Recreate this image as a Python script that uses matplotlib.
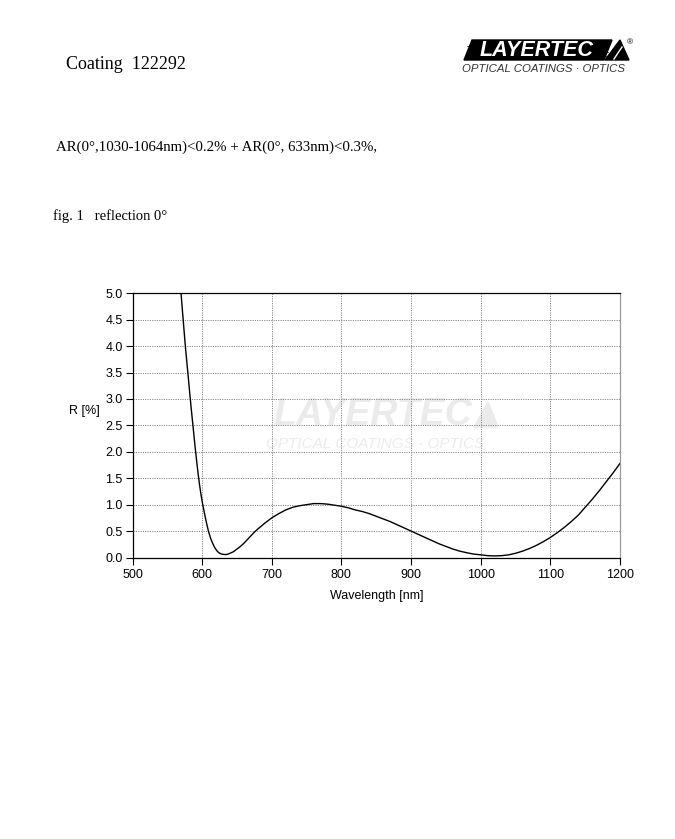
"""Reflection curve of LAYERTEC coating 122292 (AR 0 deg), datasheet-style page."""

import matplotlib
matplotlib.use("Agg")
import matplotlib.pyplot as plt
from matplotlib.patches import Polygon

# --- Data ---
wavelength_nm = [569, 570, 572, 574, 576, 578, 580, 582, 584, 586, 588, 590,
                 592, 594, 596, 598, 600, 603, 606, 609, 612, 615, 618, 621,
                 624, 627, 630, 633, 636, 640, 645, 650, 655, 660, 665, 670,
                 675, 680, 690, 700, 710, 720, 730, 740, 750, 760, 770, 780,
                 790, 800, 810, 820, 830, 840, 850, 860, 870, 880, 890, 900,
                 910, 920, 930, 940, 950, 960, 970, 980, 990, 1000, 1010,
                 1020, 1030, 1040, 1050, 1060, 1070, 1080, 1090, 1100, 1110,
                 1120, 1130, 1140, 1150, 1160, 1170, 1180, 1190, 1200]
reflection_pct = [5.1, 4.95, 4.62, 4.3, 3.98, 3.7, 3.42, 3.14, 2.86, 2.6,
                  2.34, 2.08, 1.84, 1.61, 1.4, 1.22, 1.06, 0.86, 0.67, 0.5,
                  0.37, 0.27, 0.19, 0.13, 0.09, 0.07, 0.06, 0.055, 0.06, 0.08,
                  0.11, 0.16, 0.21, 0.27, 0.34, 0.41, 0.48, 0.54, 0.65, 0.75,
                  0.83, 0.9, 0.95, 0.98, 1.0, 1.02, 1.02, 1.01, 0.99, 0.97,
                  0.94, 0.9, 0.87, 0.83, 0.78, 0.73, 0.68, 0.62, 0.56, 0.5,
                  0.44, 0.38, 0.32, 0.26, 0.21, 0.16, 0.12, 0.09, 0.065, 0.05,
                  0.035, 0.03, 0.035, 0.05, 0.08, 0.12, 0.17, 0.23, 0.3, 0.38,
                  0.47, 0.57, 0.68, 0.8, 0.95, 1.1, 1.26, 1.43, 1.6, 1.78]

x_ticks = [500, 600, 700, 800, 900, 1000, 1100, 1200]
y_ticks = [0.0, 0.5, 1.0, 1.5, 2.0, 2.5, 3.0, 3.5, 4.0, 4.5, 5.0]

TITLE = "Coating  122292"
SPEC = "AR(0°,1030-1064nm)<0.2% + AR(0°, 633nm)<0.3%,"
FIG_CAPTION = "fig. 1   reflection 0°"
BRAND = "LAYERTEC"
BRAND_SUB = "OPTICAL COATINGS · OPTICS"

# --- Page geometry (pixels at 100 dpi) ---
W_PX, H_PX = 675, 839
DPI = 100
SERIF = "Liberation Serif"
SANS = "Liberation Sans"
AX_LEFT, AX_RIGHT, AX_TOP, AX_BOTTOM = 132.5, 620, 293.3, 557.5

fig = plt.figure(figsize=(W_PX / DPI, H_PX / DPI), dpi=DPI)

# page layer in pixel coordinates (sits under the chart)
page = fig.add_axes([0, 0, 1, 1], zorder=0)
page.set_xlim(0, W_PX)
page.set_ylim(H_PX, 0)
page.axis("off")

page.text(66.5, 69, TITLE, family=SERIF, fontsize=13, va="baseline")
page.text(55.5, 151, SPEC, family=SERIF, fontsize=10.75, va="baseline")
page.text(53, 220, FIG_CAPTION, family=SERIF, fontsize=10.5, va="baseline")

# header logo: black slanted banner, white lettering, triangle
page.add_patch(Polygon([(464, 60), (472, 40), (612, 40), (604, 60)],
                       closed=True, color="black"))
page.text(537, 50.5, BRAND, family=SANS, fontsize=15.5, weight="bold",
          style="italic", color="white", ha="center", va="center")
for y in (46, 51.5, 56):
    page.plot([467, 608], [y, y], color="black", lw=0.5)
page.add_patch(Polygon([(605, 60), (620, 40), (629, 60)], closed=True,
                       color="black"))
page.plot([614, 622], [59, 47], color="white", lw=1.0)
page.text(630, 43, "®", family=SANS, fontsize=6, ha="center", va="center")
page.text(544, 68.5, BRAND_SUB, family=SANS, fontsize=8.2, style="italic",
          weight="light", ha="center", va="center", color="#333333")

# faint watermark behind the grid
wm_color = "#ebebeb"
page.text(373, 415, BRAND, family=SANS, fontsize=27, weight="bold",
          style="italic", color=wm_color, ha="center", va="center")
page.add_patch(Polygon([(474, 427), (488, 402), (498, 427)], closed=True,
                       color=wm_color))
page.text(375, 443.5, BRAND_SUB, family=SANS, fontsize=11, style="italic",
          color=wm_color, ha="center", va="center")

# --- Chart ---
ax = fig.add_axes([AX_LEFT / W_PX, 1 - AX_BOTTOM / H_PX,
                   (AX_RIGHT - AX_LEFT) / W_PX,
                   (AX_BOTTOM - AX_TOP) / H_PX], zorder=1)
ax.patch.set_alpha(0)

ax.plot(wavelength_nm, reflection_pct, color="black", lw=1.0, zorder=3)

ax.set_xlim(500, 1200)
ax.set_ylim(0, 5)
ax.set_xticks(x_ticks)
ax.set_yticks(y_ticks)
ax.set_xticklabels([str(v) for v in x_ticks], family=SANS, fontsize=9)
ax.set_yticklabels([f"{v:.1f}" for v in y_ticks], family=SANS, fontsize=9)
ax.tick_params(axis="both", direction="out", length=5, width=0.8, pad=2)
ax.tick_params(axis="x", pad=3.5)

ax.grid(True, linestyle=(0, (1.2, 1.2)), color="#888888", lw=0.7)
ax.set_axisbelow(True)

for side in ("top", "left", "bottom"):
    ax.spines[side].set_color("black")
    ax.spines[side].set_linewidth(0.9)
ax.spines["right"].set_color("#999999")
ax.spines["right"].set_linewidth(0.9)

ax.set_xlabel("Wavelength [nm]", family=SANS, fontsize=9, labelpad=6)
ax.set_ylabel("R [%]", family=SANS, fontsize=9, rotation=0,
              ha="center", va="center")
ax.yaxis.set_label_coords(-0.099, 0.555)

fig.savefig("out.png", dpi=DPI)
